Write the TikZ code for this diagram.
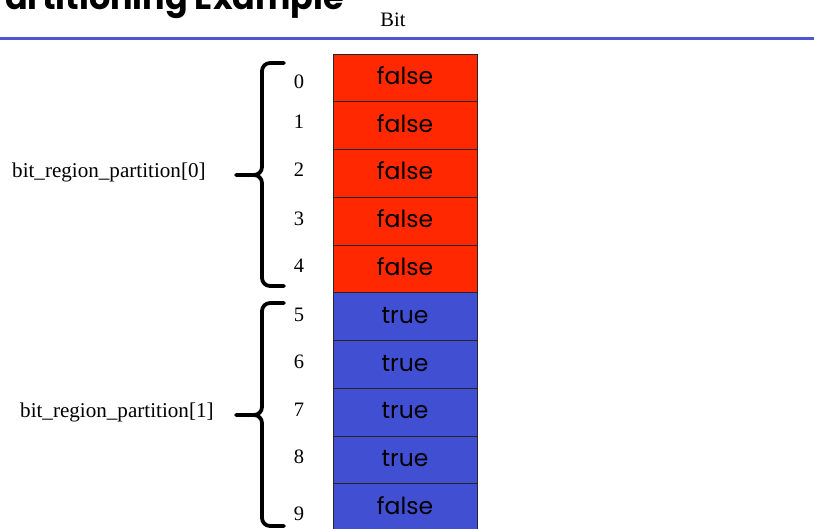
\documentclass[tikz,border=0pt]{standalone}
\usepackage{fontspec}
\setmainfont{Liberation Serif}
\newfontfamily\cellfont{Poppins}
\newfontfamily\headfont{Poppins}
\definecolor{falsered}{RGB}{255,40,0}
\definecolor{trueblue}{RGB}{65,80,210}
\definecolor{rulebl}{RGB}{78,88,214}
\tikzset{
  cellbox/.style={draw=black!85, line width=0.9pt},
  celltext/.style={font=\cellfont\fontsize{23.5}{23.5}\selectfont, anchor=base, inner sep=0pt},
  idx/.style={font=\fontsize{20.5}{20.5}\selectfont, inner sep=0pt},
  grouplabel/.style={font=\fontsize{21.1}{21.1}\selectfont, inner sep=0pt},
  bracepath/.style={line width=3.8pt, line join=round, line cap=round}
}
\begin{document}
\begin{tikzpicture}[x=1pt, y=-1pt]
  \useasboundingbox (0,0) rectangle (814,529);
  \clip (0,0) rectangle (814,529);

  % heading and rule
  \node[font=\headfont\bfseries\fontsize{33.4}{33.4}\selectfont, anchor=base east, inner sep=0pt]
    (title) at (344,9.5) {Partitioning Example};
  \draw[rulebl, line width=3.6pt] (0,38.5) -- (814,38.5);
  \node[font=\fontsize{20.5}{20.5}\selectfont, inner sep=0pt] (bithead) at (393,20) {Bit};

  % the bit array
  \def\celltop{54}
  \def\cellh{47.75}
  \foreach \i/\val/\col in {0/false/falsered,1/false/falsered,2/false/falsered,3/false/falsered,4/false/falsered,
                            5/true/trueblue,6/true/trueblue,7/true/trueblue,8/true/trueblue,9/false/trueblue}{
    \pgfmathsetmacro\yt{\celltop+\i*\cellh}
    \pgfmathsetmacro\yb{\yt+\cellh}
    \pgfmathsetmacro\yc{\yt+30.5}
    \fill[\col] (333,\yt) rectangle (477,\yb);
    \draw[cellbox] (333,\yt) rectangle (477,\yb);
    \node[celltext] (cell\i) at (405,\yc) {\val};
  }

  % indices
  \foreach \i/\yy in {0/82,1/122,2/170,3/219,4/266,5/314.5,6/362,7/410,8/457,9/514}{
    \node[idx] (idx\i) at (299,\yy) {\i};
  }

  % braces
  \draw[bracepath] (284,63) -- (270,63) to[out=180,in=90] (262,71) -- (262,167)
    to[out=-90,in=0] (254,175) -- (236,175);
  \draw[bracepath] (254,175) to[out=0,in=90] (262,183) -- (262,278)
    to[out=-90,in=180] (270,286) -- (284,286);
  \draw[bracepath] (284,303) -- (270,303) to[out=180,in=90] (262,311) -- (262,407)
    to[out=-90,in=0] (254,415) -- (236,415);
  \draw[bracepath] (254,415) to[out=0,in=90] (262,423) -- (262,518)
    to[out=-90,in=180] (270,526) -- (284,526);

  % group labels
  \node[grouplabel, anchor=west] (part0) at (12,172) {bit\_region\_partition[0]};
  \node[grouplabel, anchor=west] (part1) at (20,412) {bit\_region\_partition[1]};
\end{tikzpicture}
\end{document}
